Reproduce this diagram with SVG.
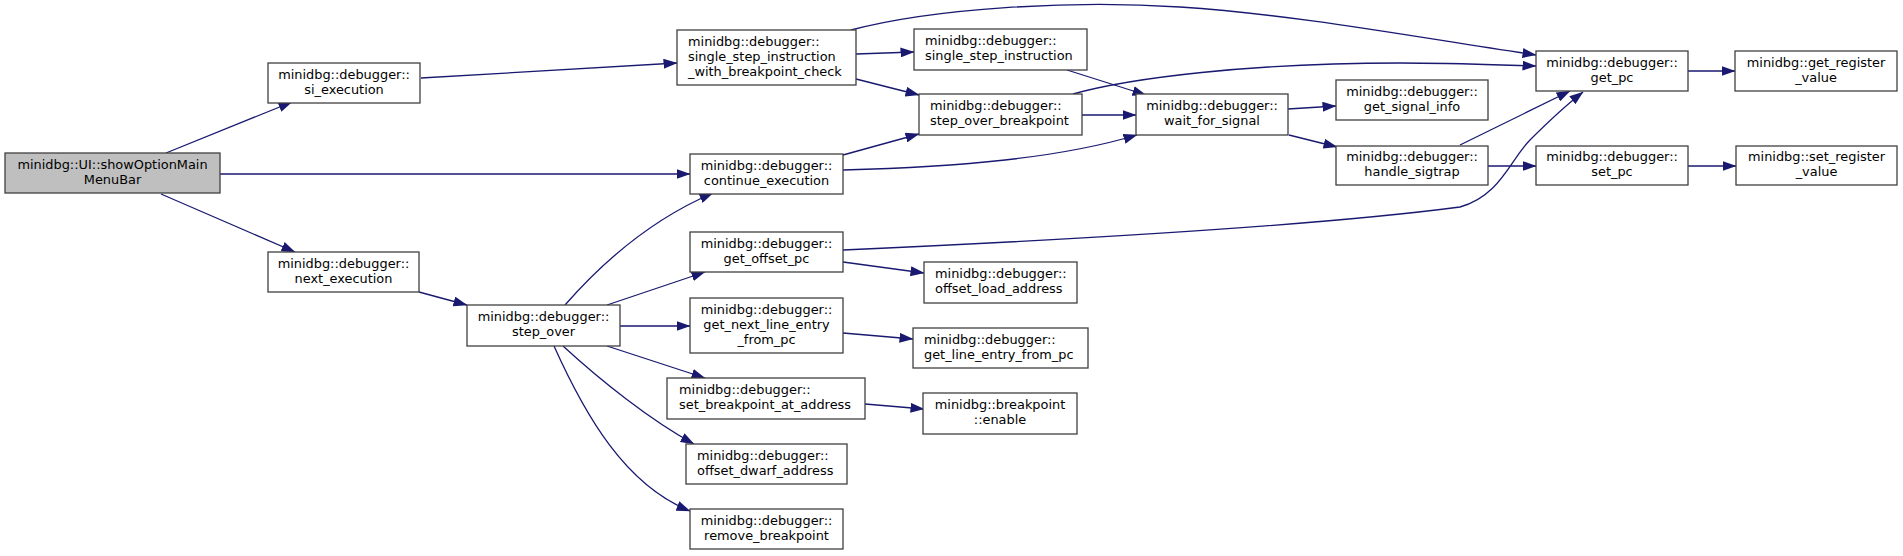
<svg xmlns="http://www.w3.org/2000/svg" width="1903" height="556" viewBox="0 0 1903 556">
<style>
.n rect{fill:#ffffff;stroke:#404040;stroke-width:1.3}
.n.root rect{fill:#bfbfbf}
.n text{font-family:"DejaVu Sans",sans-serif;font-size:12.9px;fill:#000000}
.c{text-anchor:middle}
.e path{fill:none;stroke:#191970;stroke-width:1.3;marker-end:url(#ah)}
</style>
<defs>
<marker id="ah" markerUnits="userSpaceOnUse" markerWidth="14" markerHeight="10" refX="13.5" refY="5" orient="auto" viewBox="0 0 14 10">
<path d="M0,0 L14,5 L0,10 z" fill="#191970"/>
</marker>
</defs>
<rect x="0" y="0" width="1903" height="556" fill="#ffffff"/>
<g id="edges" class="e">
<path d="M166,153 L292,102"/>
<path d="M220,174 L690,174"/>
<path d="M161,194 L295,252"/>
<path d="M421,78 L677,63"/>
<path d="M851,30 C935,8 1070,0 1180,7 C1300,15 1420,38 1536,55"/>
<path d="M856,54 L914,52"/>
<path d="M856,79 L919,95"/>
<path d="M843,155 L919,134"/>
<path d="M843,170 C960,167 1060,158 1137,135"/>
<path d="M1073,94 C1130,78 1250,63 1400,63 C1450,63 1500,65 1536,66"/>
<path d="M1082,115 L1136,115"/>
<path d="M1067,70 L1146,95"/>
<path d="M1288,109 L1336,106"/>
<path d="M1289,135 L1337,147"/>
<path d="M1460,145 L1570,91"/>
<path d="M1488,166 L1536,166"/>
<path d="M843,250 C1000,243 1300,228 1460,207 C1500,196 1510,160 1530,140 C1548,122 1565,106 1583,92"/>
<path d="M843,262 L924,273"/>
<path d="M1688,71 L1735,71"/>
<path d="M1688,166 L1736,166"/>
<path d="M419,292 L467,305"/>
<path d="M565,305 C600,265 650,220 713,193"/>
<path d="M607,305 L705,272"/>
<path d="M620,326 L690,326"/>
<path d="M843,333 L913,339"/>
<path d="M607,346 L705,378"/>
<path d="M865,404 L924,409"/>
<path d="M563,346 C600,380 650,420 694,444"/>
<path d="M554,346 C585,415 625,485 690,511"/>
</g>
<g id="showOptionMainMenuBar" class="n root"><rect x="5" y="153" width="215" height="40"/><text class="c" x="112.5" y="168.5">minidbg::UI::showOptionMain</text><text class="c" x="112.5" y="183.5">MenuBar</text></g>
<g id="si_execution" class="n"><rect x="268" y="63" width="152" height="40"/><text class="c" x="344" y="78.5">minidbg::debugger::</text><text class="c" x="344" y="93.5">si_execution</text></g>
<g id="next_execution" class="n"><rect x="268" y="252" width="151" height="40"/><text class="c" x="343.5" y="267.5">minidbg::debugger::</text><text class="c" x="343.5" y="282.5">next_execution</text></g>
<g id="single_step_instruction_with_breakpoint_check" class="n"><rect x="677" y="30" width="179" height="55"/><text x="688" y="45.5">minidbg::debugger::</text><text x="688" y="60.5">single_step_instruction</text><text x="688" y="75.5">_with_breakpoint_check</text></g>
<g id="continue_execution" class="n"><rect x="690" y="154" width="153" height="40"/><text class="c" x="766.5" y="169.5">minidbg::debugger::</text><text class="c" x="766.5" y="184.5">continue_execution</text></g>
<g id="get_offset_pc" class="n"><rect x="690" y="232" width="153" height="40"/><text class="c" x="766.5" y="247.5">minidbg::debugger::</text><text class="c" x="766.5" y="262.5">get_offset_pc</text></g>
<g id="single_step_instruction" class="n"><rect x="914" y="29" width="173" height="41"/><text x="925" y="45">minidbg::debugger::</text><text x="925" y="60">single_step_instruction</text></g>
<g id="step_over_breakpoint" class="n"><rect x="919" y="94" width="163" height="41"/><text x="930" y="110">minidbg::debugger::</text><text x="930" y="125">step_over_breakpoint</text></g>
<g id="wait_for_signal" class="n"><rect x="1136" y="94" width="152" height="41"/><text class="c" x="1212" y="110">minidbg::debugger::</text><text class="c" x="1212" y="125">wait_for_signal</text></g>
<g id="get_signal_info" class="n"><rect x="1336" y="80" width="152" height="40"/><text class="c" x="1412" y="95.5">minidbg::debugger::</text><text class="c" x="1412" y="110.5">get_signal_info</text></g>
<g id="handle_sigtrap" class="n"><rect x="1336" y="146" width="152" height="39"/><text class="c" x="1412" y="161">minidbg::debugger::</text><text class="c" x="1412" y="176">handle_sigtrap</text></g>
<g id="offset_load_address" class="n"><rect x="924" y="262" width="153" height="41"/><text x="935" y="278">minidbg::debugger::</text><text x="935" y="293">offset_load_address</text></g>
<g id="get_line_entry_from_pc" class="n"><rect x="913" y="328" width="175" height="40"/><text x="924" y="343.5">minidbg::debugger::</text><text x="924" y="358.5">get_line_entry_from_pc</text></g>
<g id="breakpoint_enable" class="n"><rect x="923" y="393" width="154" height="41"/><text class="c" x="1000" y="409">minidbg::breakpoint</text><text class="c" x="1000" y="424">::enable</text></g>
<g id="get_pc" class="n"><rect x="1536" y="51" width="152" height="40"/><text class="c" x="1612" y="66.5">minidbg::debugger::</text><text class="c" x="1612" y="81.5">get_pc</text></g>
<g id="get_register_value" class="n"><rect x="1735" y="51" width="162" height="40"/><text class="c" x="1816" y="66.5">minidbg::get_register</text><text class="c" x="1816" y="81.5">_value</text></g>
<g id="set_pc" class="n"><rect x="1536" y="146" width="152" height="39"/><text class="c" x="1612" y="161">minidbg::debugger::</text><text class="c" x="1612" y="176">set_pc</text></g>
<g id="set_register_value" class="n"><rect x="1736" y="146" width="161" height="39"/><text class="c" x="1816.5" y="161">minidbg::set_register</text><text class="c" x="1816.5" y="176">_value</text></g>
<g id="step_over" class="n"><rect x="467" y="305" width="153" height="41"/><text class="c" x="543.5" y="321">minidbg::debugger::</text><text class="c" x="543.5" y="336">step_over</text></g>
<g id="get_next_line_entry_from_pc" class="n"><rect x="690" y="298" width="153" height="55"/><text class="c" x="766.5" y="313.5">minidbg::debugger::</text><text class="c" x="766.5" y="328.5">get_next_line_entry</text><text class="c" x="766.5" y="343.5">_from_pc</text></g>
<g id="set_breakpoint_at_address" class="n"><rect x="667" y="378" width="198" height="41"/><text x="679" y="394">minidbg::debugger::</text><text x="679" y="409">set_breakpoint_at_address</text></g>
<g id="offset_dwarf_address" class="n"><rect x="686" y="444" width="161" height="40"/><text x="697" y="459.5">minidbg::debugger::</text><text x="697" y="474.5">offset_dwarf_address</text></g>
<g id="remove_breakpoint" class="n"><rect x="690" y="509" width="153" height="40"/><text class="c" x="766.5" y="524.5">minidbg::debugger::</text><text class="c" x="766.5" y="539.5">remove_breakpoint</text></g>
</svg>
